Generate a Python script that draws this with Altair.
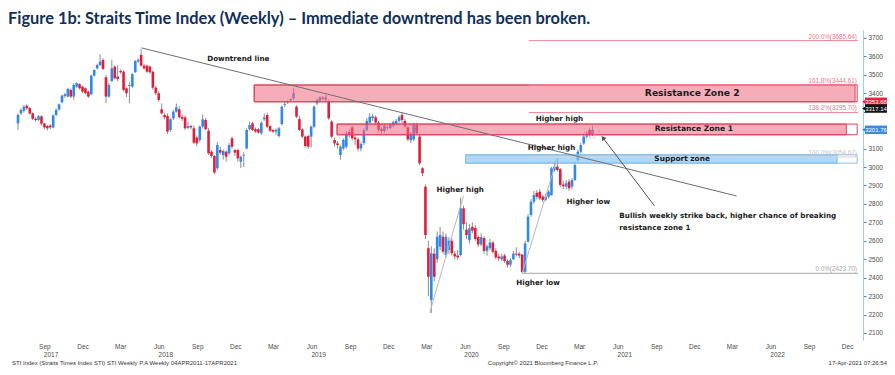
import altair as alt
import pandas as pd

TITLE = "Figure 1b: Straits Time Index (Weekly) \u2013 Immediate downtrend has been broken."

# ---------------- weekly candles (first week ends 14-Jul-2017, last 16-Apr-2021) -------------
open_ = [
    3237, 3291, 3305, 3333, 3320, 3292, 3262, 3255, 3275, 3236,
    3222, 3225, 3215, 3282, 3312, 3351, 3385, 3382, 3418, 3382,
    3436, 3449, 3436, 3427, 3409, 3395, 3496, 3535, 3553, 3581,
    3487, 3382, 3467, 3544, 3490, 3521, 3517, 3427, 3440, 3436,
    3514, 3572, 3608, 3550, 3550, 3545, 3517, 3430, 3400, 3313,
    3282, 3277, 3201, 3264, 3300, 3313, 3272, 3269, 3212, 3222,
    3210, 3160, 3147, 3219, 3255, 3197, 3083, 3060, 2993, 3092,
    3065, 3083, 3074, 3156, 3092, 3092, 3029, 3062, 3101, 3205,
    3237, 3205, 3205, 3183, 3259, 3282, 3222, 3201, 3192, 3168,
    3233, 3337, 3350, 3368, 3372, 3327, 3260, 3204, 3165, 3168,
    3165, 3219, 3345, 3360, 3375, 3365, 3354, 3246, 3147, 3128,
    3065, 3101, 3110, 3190, 3215, 3160, 3150, 3100, 3130, 3200,
    3241, 3265, 3270, 3241, 3205, 3195, 3215, 3212, 3225, 3235,
    3250, 3282, 3250, 3215, 3145, 3150, 3228, 3165, 2993, 2893,
    2560, 2279, 2530, 2500, 2568, 2622, 2523, 2550, 2600, 2530,
    2520, 2523, 2776, 2660, 2604, 2676, 2670, 2620, 2580, 2615,
    2545, 2560, 2590, 2545, 2515, 2500, 2520, 2490, 2470, 2500,
    2530, 2530, 2525, 2432, 2595, 2740, 2812, 2860, 2866, 2840,
    2822, 2839, 2848, 2984, 3002, 2988, 2905, 2894, 2921, 2894,
    2930, 3040, 3083, 3128, 3165, 3201, 3174,
]
high_ = [
    3291, 3318, 3336, 3340, 3325, 3296, 3270, 3282, 3280, 3240,
    3228, 3232, 3285, 3318, 3345, 3392, 3402, 3430, 3425, 3454,
    3460, 3455, 3440, 3432, 3415, 3500, 3530, 3560, 3611, 3590,
    3500, 3455, 3581, 3552, 3550, 3530, 3525, 3432, 3460, 3510,
    3580, 3590, 3641, 3560, 3556, 3550, 3522, 3440, 3410, 3345,
    3290, 3290, 3265, 3310, 3345, 3330, 3285, 3280, 3245, 3230,
    3225, 3170, 3225, 3285, 3265, 3210, 3092, 3065, 3135, 3110,
    3095, 3090, 3130, 3165, 3098, 3100, 3062, 3080, 3210, 3245,
    3245, 3215, 3212, 3248, 3290, 3295, 3228, 3208, 3210, 3218,
    3335, 3355, 3362, 3372, 3427, 3335, 3278, 3210, 3170, 3175,
    3225, 3335, 3370, 3385, 3385, 3390, 3365, 3255, 3160, 3140,
    3118, 3155, 3195, 3205, 3225, 3170, 3160, 3135, 3210, 3265,
    3293, 3290, 3280, 3250, 3215, 3235, 3225, 3240, 3250, 3260,
    3280, 3295, 3260, 3220, 3190, 3240, 3240, 3180, 3000, 2905,
    2600, 2570, 2560, 2650, 2676, 2650, 2640, 2620, 2615, 2545,
    2550, 2835, 2790, 2700, 2690, 2700, 2685, 2630, 2640, 2625,
    2580, 2610, 2600, 2560, 2530, 2530, 2530, 2500, 2505, 2545,
    2565, 2540, 2530, 2600, 2745, 2825, 2870, 2875, 2880, 2850,
    2855, 2875, 3000, 3030, 3049, 2995, 2925, 2930, 2935, 2940,
    3029, 3095, 3130, 3175, 3195, 3215, 3225,
]
low_ = [
    3201, 3282, 3296, 3310, 3285, 3255, 3245, 3250, 3225, 3205,
    3198, 3205, 3210, 3278, 3305, 3345, 3375, 3378, 3375, 3364,
    3430, 3420, 3400, 3395, 3375, 3390, 3490, 3530, 3548, 3525,
    3346, 3375, 3460, 3475, 3465, 3505, 3410, 3380, 3346, 3430,
    3510, 3565, 3545, 3528, 3510, 3505, 3420, 3390, 3355, 3285,
    3258, 3180, 3190, 3255, 3295, 3262, 3250, 3200, 3205, 3205,
    3125, 3112, 3135, 3210, 3200, 3065, 3050, 2960, 2985, 3068,
    3040, 3030, 3065, 3100, 3060, 3030, 2995, 3000, 3095, 3198,
    3195, 3185, 3180, 3175, 3250, 3212, 3190, 3185, 3175, 3160,
    3225, 3325, 3342, 3352, 3365, 3265, 3195, 3155, 3105, 3100,
    3105, 3210, 3335, 3350, 3360, 3358, 3255, 3155, 3110, 3100,
    3040, 3090, 3100, 3160, 3145, 3120, 3085, 3085, 3120, 3195,
    3235, 3250, 3230, 3190, 3180, 3185, 3200, 3205, 3215, 3225,
    3240, 3235, 3215, 3140, 3130, 3140, 3175, 3010, 2950, 2610,
    2300, 2208, 2380, 2480, 2550, 2530, 2510, 2530, 2520, 2500,
    2495, 2515, 2660, 2610, 2585, 2640, 2600, 2565, 2570, 2530,
    2520, 2550, 2530, 2500, 2490, 2490, 2480, 2455, 2460, 2495,
    2515, 2505, 2423.7, 2425, 2590, 2730, 2800, 2825, 2820, 2810,
    2815, 2830, 2845, 2975, 2975, 2890, 2880, 2880, 2870, 2880,
    2925, 3030, 3075, 3120, 3155, 3165, 3168,
]
close_ = [
    3282, 3309, 3327, 3318, 3290, 3262, 3255, 3275, 3235, 3215,
    3210, 3215, 3280, 3310, 3340, 3387, 3395, 3423, 3382, 3445,
    3454, 3427, 3409, 3400, 3382, 3496, 3526, 3553, 3572, 3532,
    3382, 3445, 3535, 3481, 3478, 3514, 3418, 3400, 3445, 3503,
    3575, 3581, 3550, 3535, 3517, 3514, 3430, 3400, 3364, 3291,
    3270, 3192, 3259, 3300, 3324, 3270, 3262, 3210, 3222, 3215,
    3132, 3128, 3219, 3259, 3205, 3074, 3060, 2970, 3119, 3078,
    3087, 3056, 3119, 3110, 3078, 3047, 3056, 3066, 3201, 3228,
    3201, 3192, 3187, 3240, 3269, 3219, 3197, 3192, 3201, 3210,
    3327, 3342, 3355, 3362, 3400, 3273, 3201, 3165, 3114, 3110,
    3219, 3327, 3363, 3378, 3370, 3378, 3264, 3165, 3128, 3119,
    3110, 3147, 3183, 3175, 3156, 3150, 3100, 3125, 3200, 3250,
    3273, 3275, 3241, 3201, 3195, 3225, 3212, 3230, 3243, 3250,
    3270, 3255, 3220, 3150, 3180, 3230, 3183, 3020, 2966, 2631,
    2405, 2532, 2405, 2622, 2631, 2541, 2622, 2600, 2532, 2515,
    2510, 2776, 2690, 2631, 2667, 2655, 2610, 2580, 2620, 2545,
    2570, 2590, 2540, 2510, 2505, 2515, 2490, 2470, 2495, 2530,
    2525, 2520, 2430, 2586, 2731, 2812, 2848, 2838, 2830, 2822,
    2840, 2866, 2993, 3002, 2984, 2903, 2895, 2912, 2885, 2930,
    3011, 3083, 3119, 3165, 3183, 3174, 3201.76,
]
FIRST_WEEK = "2017-07-14"

# ---------------- annotation data ----------------
zone_name = ["Resistance Zone 2", "Resistance Zone 1", "Support zone"]
zone_low = [3353.68, 3175.0, 3021.0]
zone_high = [3444.61, 3233.0, 3066.0]
zone_start = ["2019-01-29", "2019-08-15", "2020-06-17"]
zone_end = ["2023-01-03", "2022-12-13", "2022-11-21"]
zone_label_date = ["2021-12-10", "2021-12-14", "2021-11-16"]
zone_label_size = [9.2, 7.6, 7.4]
zone_kind = ["res", "res", "sup"]

fib_pct = ["200.0%", "161.8%", "138.2%", "100.0%", "0.0%"]
fib_level = [3685.64, 3444.61, 3295.70, 3054.67, 2423.70]
fib_start = ["2020-11-15", "2020-11-15", "2020-11-15", "2020-11-15", "2020-10-30"]
fib_line_color = ["#f08a9a", "#f08a9a", "#f08a9a", "#d6d6d6", "#a6a6a6"]
fib_text_color = ["#e9798b", "#e9798b", "#e9798b", "#c4c4c4", "#a6a6a6"]
AXIS_END = "2023-01-10"
OUTLINE_END = "2023-01-08"
FIB_LABEL_DATE = "2023-01-07"

tl_start_date = ["2018-05-05", "2020-03-23", "2020-10-30"]
tl_start_val = [3646, 2208, 2423.7]
tl_end_date = ["2022-03-26", "2020-06-12", "2021-01-22"]
tl_end_val = [2843, 2845, 3050]
tl_color = ["#6e6e6e", "#b8b8b8", "#b8b8b8"]

note_text = ["Downtrend line", "Higher high", "Higher high", "Higher high", "Higher low", "Higher low"]
note_date = ["2018-12-22", "2021-01-27", "2021-01-08", "2020-06-04", "2021-04-06", "2020-12-07"]
note_val = [3584, 3259, 3103, 2876, 2811, 2373]

call_text = ["Bullish weekly strike back, higher chance of breaking", "resistance zone 1"]
call_date = ["2021-06-19", "2021-06-19"]
call_val = [2735, 2671]

tag_price = [3353.68, 3317.14, 3201.76]
tag_color = ["#e3253e", "#141414", "#3d8ae0"]
hidden_axis_labels = [3200, 3300]   # covered by the price tags in the original

circle_date = ["2021-04-14"]
circle_val = [3196]
arrow_tail = ("2021-09-11", 2789)
arrow_head = ("2021-05-11", 3158)

year_text = ["2017", "2018", "2019", "2020", "2021", "2022"]
year_date = ["2017-10-01", "2018-07-02", "2019-07-02", "2020-07-01", "2021-07-02", "2022-07-02"]

footer_left = "STI Index (Straits Times Index STI) STI Weekly P.A  Weekly 04APR2011-17APR2021"
footer_mid = "Copyright\u00a9 2021 Bloomberg Finance L.P."
footer_right = "17-Apr-2021 07:26:54"


def ts(s):
    return s + "T00:00:00"


# ---------------- frames ----------------
dates = pd.date_range(FIRST_WEEK, periods=len(close_), freq="7D").strftime("%Y-%m-%dT00:00:00")
candles = pd.DataFrame({"date": dates, "open": open_, "high": high_, "low": low_, "close": close_})
candles["dir"] = ["up" if c >= o else "down" for o, c in zip(open_, close_)]

zones = pd.DataFrame({
    "name": zone_name, "lo": zone_low, "hi": zone_high,
    "d1": [ts(d) for d in zone_start], "d2": [ts(d) for d in zone_end],
    "d3": ts(OUTLINE_END),
    "dl": [ts(d) for d in zone_label_date], "kind": zone_kind, "fs": zone_label_size,
})
zones["mid"] = [(a + b) / 2 for a, b in zip(zone_low, zone_high)]

fibs = pd.DataFrame({
    "lvl": fib_level, "d1": [ts(d) for d in fib_start], "d2": ts(AXIS_END),
    "dl": ts(FIB_LABEL_DATE), "lc": fib_line_color, "tc": fib_text_color,
    "label": [f"{p}({v:.2f})" for p, v in zip(fib_pct, fib_level)],
})

tlines = pd.DataFrame({
    "d1": [ts(d) for d in tl_start_date], "v1": tl_start_val,
    "d2": [ts(d) for d in tl_end_date], "v2": tl_end_val, "c": tl_color,
})
notes = pd.DataFrame({"t": note_text, "d": [ts(d) for d in note_date], "v": note_val})
calls = pd.DataFrame({"t": call_text, "d": [ts(d) for d in call_date], "v": call_val})
tags = pd.DataFrame({"p": tag_price, "c": tag_color, "t": [f"{p:.2f}" for p in tag_price]})
circ = pd.DataFrame({"d": [ts(d) for d in circle_date], "v": circle_val})
arrow = pd.DataFrame({"d1": [ts(arrow_tail[0])], "v1": [arrow_tail[1]],
                      "d2": [ts(arrow_head[0])], "v2": [arrow_head[1]]})
years = pd.DataFrame({"t": year_text, "d": [ts(d) for d in year_date]})

# ---------------- scales / axes ----------------
xs = alt.Scale(domain=[alt.DateTime(year=2017, month=7, date=2), alt.DateTime(year=2023, month=1, date=10)])
ys = alt.Scale(domain=[2062, 3743], zero=False, nice=False)

month_vals = [alt.DateTime(year=y, month=m, date=15)
              for y in range(2017, 2023) for m in (3, 6, 9, 12) if (y, m) >= (2017, 9)]
xaxis = alt.Axis(values=month_vals, format="%b", labelFontSize=6.5, labelColor="#4a4a4a",
                 labelFont="Liberation Sans", domain=False, ticks=False, grid=False,
                 labelPadding=3, title=None, labelFlush=False, labelOverlap=False)
hide_expr = " || ".join(f"datum.value == {v}" for v in hidden_axis_labels)
yaxis = alt.Axis(orient="right", values=list(range(2100, 3701, 100)), format="d",
                 labelExpr=f"({hide_expr}) ? '' : datum.label",
                 labelFontSize=6.5, labelColor="#4a4a4a", labelFont="Liberation Sans",
                 domainColor="#9ccbee", tickColor="#3b8fd8", tickSize=3, labelPadding=2,
                 grid=False, title=None, labelOverlap=False)


def X(field):
    return alt.X(f"{field}:T", scale=xs, axis=xaxis)


def Y(field):
    return alt.Y(f"{field}:Q", scale=ys, axis=yaxis)


BOLD = dict(font="DejaVu Sans", fontWeight="bold", fontSize=7.2, color="#1b1b1b")
KIND = alt.Scale(domain=["res", "sup"], range=["#e0415b", "#86bfea"])

# ---------------- layers ----------------
wicks = alt.Chart(candles).mark_rule(color="#8c8c8c", strokeWidth=1).encode(
    x=X("date"), y=Y("low"), y2="high:Q",
)
bodies = alt.Chart(candles).mark_bar(size=2.6).encode(
    x=X("date"), y=Y("open"), y2="close:Q",
    color=alt.Color("dir:N", scale=alt.Scale(domain=["up", "down"], range=["#3088ea", "#e41c3a"]), legend=None),
)

zone_outline = alt.Chart(zones).mark_rect(fill=None, strokeWidth=1).encode(
    x=X("d1"), x2="d3:T", y=Y("lo"), y2="hi:Q",
    stroke=alt.Stroke("kind:N", scale=KIND, legend=None),
)
zone_fill = alt.Chart(zones).mark_rect(strokeWidth=1).encode(
    x=X("d1"), x2="d2:T", y=Y("lo"), y2="hi:Q",
    fill=alt.Fill("kind:N", scale=alt.Scale(domain=["res", "sup"], range=["#f06a80", "#7cbcf0"]), legend=None),
    fillOpacity=alt.FillOpacity("kind:N", scale=alt.Scale(domain=["res", "sup"], range=[0.55, 0.6]), legend=None),
    stroke=alt.Stroke("kind:N", scale=KIND, legend=None),
)
zone_text = alt.Chart(zones).mark_text(font="DejaVu Sans", fontWeight="bold", color="#1b1b1b").encode(
    x=X("dl"), y=Y("mid"), text="name:N",
    size=alt.Size("fs:Q", scale=None, legend=None),
)

fib_lines = alt.Chart(fibs).mark_rule(strokeWidth=1).encode(
    x=X("d1"), x2="d2:T", y=Y("lvl"),
    color=alt.Color("lc:N", scale=None),
)
fib_text = alt.Chart(fibs).mark_text(align="right", baseline="bottom", dy=-1, fontSize=6.3,
                                     font="Liberation Sans").encode(
    x=X("dl"), y=Y("lvl"), text="label:N",
    color=alt.Color("tc:N", scale=None),
)

trend = alt.Chart(tlines).mark_rule(strokeWidth=1).encode(
    x=X("d1"), x2="d2:T", y=Y("v1"), y2="v2:Q",
    color=alt.Color("c:N", scale=None),
)
note_layer = alt.Chart(notes).mark_text(**BOLD).encode(x=X("d"), y=Y("v"), text="t:N")
call_layer = alt.Chart(calls).mark_text(align="left", **BOLD).encode(x=X("d"), y=Y("v"), text="t:N")
circle_layer = alt.Chart(circ).mark_point(shape="circle", size=210, filled=False, color="#d88e9a",
                                          strokeWidth=1, strokeDash=[2, 2]).encode(x=X("d"), y=Y("v"))
arrow_line = alt.Chart(arrow).mark_rule(color="#555555", strokeWidth=1).encode(
    x=X("d1"), x2="d2:T", y=Y("v1"), y2="v2:Q",
)
arrow_head_layer = alt.Chart(arrow).mark_point(shape="triangle-up", filled=True, size=28,
                                               color="#555555", angle=323, opacity=1).encode(
    x=X("d2"), y=Y("v2"),
)

tag_rect = alt.Chart(tags).transform_calculate(lo="datum.p - 23", hi="datum.p + 23").mark_rect().encode(
    x=alt.value(857), x2=alt.value(879), y=Y("lo"), y2="hi:Q",
    color=alt.Color("c:N", scale=None),
)
tag_tip = alt.Chart(tags).mark_point(shape="triangle-left", filled=True, size=22, opacity=1).encode(
    x=alt.value(856), y=Y("p"), color=alt.Color("c:N", scale=None),
)
tag_text = alt.Chart(tags).mark_text(color="white", fontSize=6, font="Liberation Sans").encode(
    x=alt.value(868), y=Y("p"), text="t:N",
)

year_layer = alt.Chart(years).mark_text(fontSize=6.5, color="#4a4a4a", font="Liberation Sans").encode(
    x=X("d"), y=alt.value(325), text="t:N",
)

title_layer = alt.Chart(pd.DataFrame({"t": [TITLE]})).mark_text(
    align="left", baseline="middle", font="Lato", fontWeight="bold", fontSize=16.4, color="#10305a"
).encode(x=alt.value(0), y=alt.value(-11), text="t:N")

foot = pd.DataFrame({"t": [footer_left, footer_mid, footer_right]})
foot_l = alt.Chart(foot.iloc[[0]]).mark_text(align="left", fontSize=6, color="#333333",
                                             font="Liberation Sans").encode(
    x=alt.value(4), y=alt.value(333), text="t:N")
foot_m = alt.Chart(foot.iloc[[1]]).mark_text(align="center", fontSize=6, color="#333333",
                                             font="Liberation Sans").encode(
    x=alt.value(535), y=alt.value(333), text="t:N")
foot_r = alt.Chart(foot.iloc[[2]]).mark_text(align="right", fontSize=6, color="#333333",
                                             font="Liberation Sans").encode(
    x=alt.value(879), y=alt.value(333), text="t:N")

chart = alt.layer(
    wicks, bodies, zone_outline, zone_fill, fib_lines, trend, zone_text, fib_text, note_layer,
    call_layer, circle_layer, arrow_line, arrow_head_layer, tag_rect, tag_tip, tag_text,
    year_layer, title_layer, foot_l, foot_m, foot_r,
).properties(
    width=855, height=310,
    padding={"left": 0, "top": 22, "right": 24, "bottom": 27},
    autosize=alt.AutoSizeParams(type="none"),
    background="white",
).configure_view(stroke=None)

chart.save("out.html", embed_options={"renderer": "svg", "actions": False})
